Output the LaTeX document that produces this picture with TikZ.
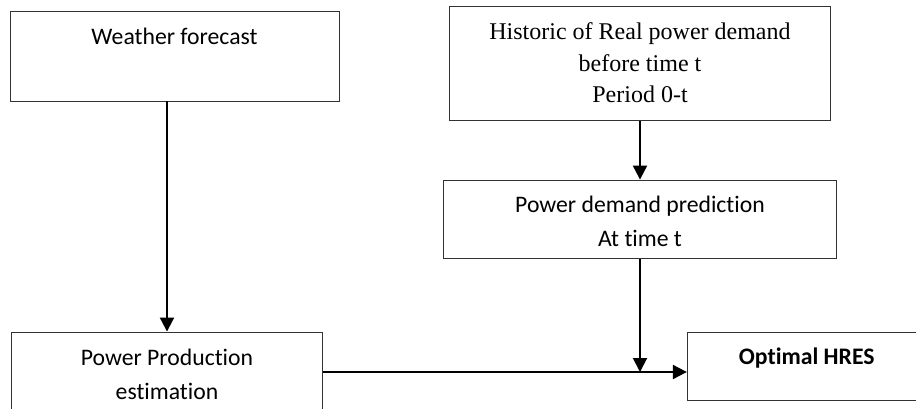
\documentclass[tikz,border=0pt]{standalone}
\usepackage{fontspec}
\setmainfont{Carlito}[RawFeature={-liga}]
\newfontfamily\timesfont{Liberation Serif}
\usetikzlibrary{arrows.meta}
\tikzset{
  box/.style={draw=black!80, line width=0.9pt, rectangle, inner sep=0pt},
  txt/.style={anchor=base, inner sep=0pt, font=\fontsize{23.7}{34}\selectfont},
  serif/.style={anchor=base, inner sep=0pt, font=\timesfont\fontsize{24}{31.5}\selectfont},
  arr/.style={draw=black, line width=2pt, -{Triangle[length=14pt,width=14pt]}},
  plain/.style={draw=black, line width=2pt}
}
\begin{document}
\begin{tikzpicture}[x=1pt,y=-1pt]
\useasboundingbox (0,0) rectangle (916,409);
\clip (0,0) rectangle (916,409);
% boxes
\node[box, minimum width=329pt, minimum height=90pt] (wf) at (174.5,56) {};
\node[box, minimum width=381.4pt, minimum height=113.7pt] (hist) at (640,63.8) {};
\node[box, minimum width=393.4pt, minimum height=78.3pt] (pd) at (640,219.2) {};
\node[box, minimum width=311.7pt, minimum height=80pt] (pp) at (167,372) {};
\node[box, minimum width=240pt, minimum height=68.4pt] (opt) at (807.3,366.5) {};
% texts
\node[txt] (wft) at (174.5,44.5) {Weather forecast};
\node[serif] (h1) at (640,40) {Historic of Real power demand};
\node[serif] (h2) at (640,72) {before time t};
\node[serif] (h3) at (640,103) {Period 0-t};
\node[txt] (pd1) at (640,212.5) {Power demand prediction};
\node[txt] (pd2) at (640,246.5) {At time t};
\node[txt] (pp1) at (167,365.7) {Power Production};
\node[txt] (pp2) at (167,399.3) {estimation};
\node[txt, font=\bfseries\fontsize{23.7}{34}\selectfont] (optt) at (806.7,364) {Optimal HRES};
% connectors
\coordinate (j) at (pd.south |- pp.east);
\draw[arr] (wf.south -| pp.north) -- (pp.north);
\draw[arr] (hist.south) -- (pd.north);
\draw[arr] (pd.south) -- (j);
\draw[arr] (pp.east) -- (pp.east -| opt.west);
\end{tikzpicture}
\end{document}
